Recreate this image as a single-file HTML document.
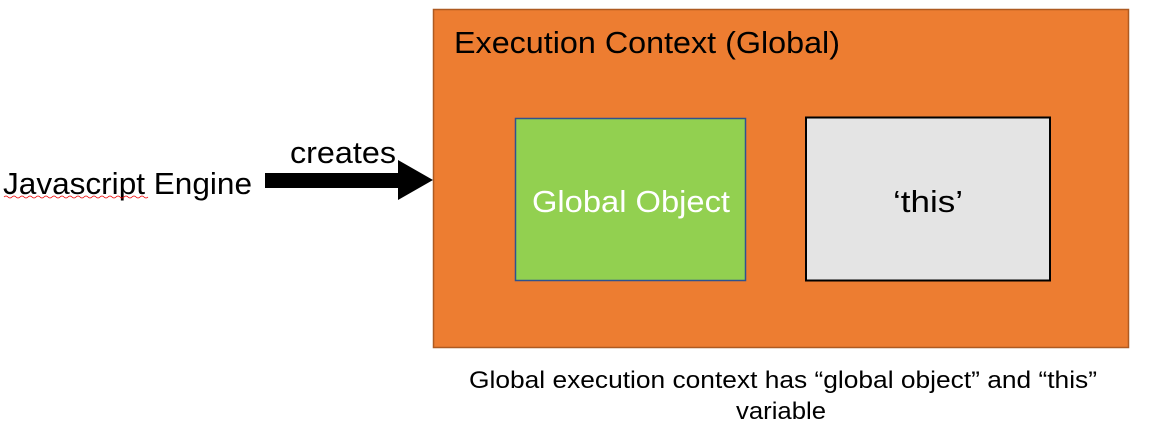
<!DOCTYPE html>
<html><head><meta charset="utf-8"><style>
html,body{margin:0;padding:0;background:#fff;}
svg{display:block;}
text{font-family:"Liberation Sans",sans-serif;}
</style></head><body>
<svg width="1152" height="437" viewBox="0 0 1152 437" xmlns="http://www.w3.org/2000/svg">
<rect x="433.5" y="9.5" width="695" height="338" fill="#ED7D31" stroke="#AE5A21" stroke-width="1.5"/>
<text x="454" y="53" font-size="31" textLength="386" lengthAdjust="spacingAndGlyphs">Execution Context (Global)</text>
<rect x="515.5" y="118.5" width="230" height="162" fill="#92D050" stroke="#2F528F" stroke-width="1.5"/>
<text x="631" y="212" font-size="31" fill="#fff" text-anchor="middle" textLength="198" lengthAdjust="spacingAndGlyphs">Global Object</text>
<rect x="806" y="117.5" width="244" height="163" fill="#E4E4E4" stroke="#000" stroke-width="2"/>
<text x="928" y="212" font-size="31" text-anchor="middle" textLength="70" lengthAdjust="spacingAndGlyphs">‘this’</text>
<text x="3" y="194" font-size="31" textLength="249" lengthAdjust="spacingAndGlyphs">Javascript Engine</text>
<path d="M4 197 q2 -2 4 0 t4 0 t4 0 t4 0 t4 0 t4 0 t4 0 t4 0 t4 0 t4 0 t4 0 t4 0 t4 0 t4 0 t4 0 t4 0 t4 0 t4 0 t4 0 t4 0 t4 0 t4 0 t4 0 t4 0 t4 0 t4 0 t4 0 t4 0 t4 0 t4 0 t4 0 t4 0 t4 0 t4 0 t4 0 t4 0" fill="none" stroke="#e00" stroke-width="0.8"/>
<text x="290" y="163" font-size="31" textLength="106" lengthAdjust="spacingAndGlyphs">creates</text>
<polygon points="265,173 398,173 398,160 433,180 398,200 398,188 265,188" fill="#000"/>
<text x="783" y="388" font-size="24" text-anchor="middle" textLength="628" lengthAdjust="spacingAndGlyphs">Global execution context has “global object” and “this”</text>
<text x="781" y="419" font-size="24" text-anchor="middle" textLength="90" lengthAdjust="spacingAndGlyphs">variable</text>
</svg>
</body></html>
